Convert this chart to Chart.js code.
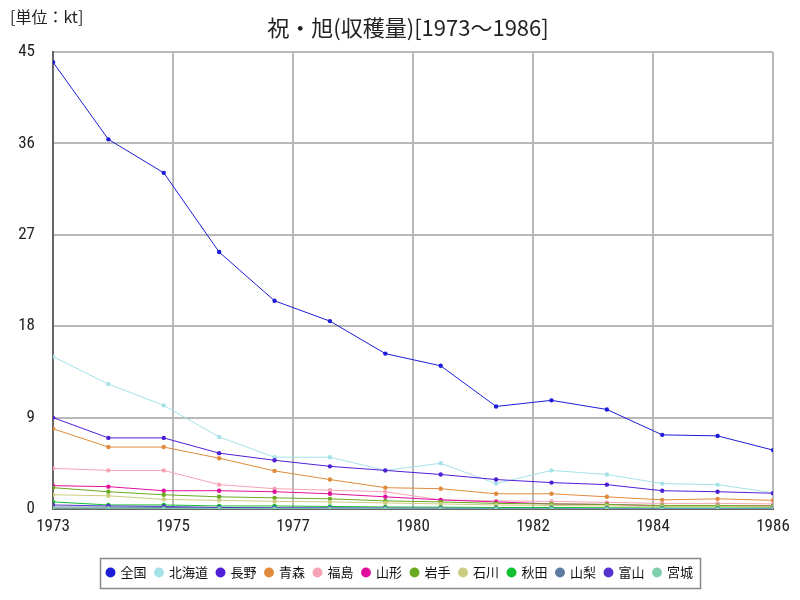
<!DOCTYPE html>
<html><head><meta charset="utf-8">
<script src="https://cdn.jsdelivr.net/npm/chart.js@4/dist/chart.umd.min.js"></script>
<style>html,body{margin:0;padding:0;background:#fff}#wrap{width:800px;height:600px}</style>
</head><body><div id="wrap"><canvas id="c" width="800" height="600"></canvas></div>
<script>
const years = [1973,1974,1975,1976,1977,1978,1979,1980,1981,1982,1983,1984,1985,1986];
const xTickLabels = [1973,1975,1977,1980,1982,1984,1986];
const yTicks = [0,9,18,27,36,45];
const seriesNames = ['全国','北海道','長野','青森','福島','山形','岩手','石川','秋田','山梨','富山','宮城'];
const seriesColors = ['#1c1cd8','#a4e2e8','#4f1fd6','#e08a3c','#f4a4b4','#e0109c','#6aaa20','#cccc80','#10c030','#5c7aa0','#5533cc','#80d0b0'];
const v全国 = [44.0,36.4,33.1,25.3,20.5,18.5,15.3,14.1,10.1,10.7,9.8,7.3,7.2,5.8];
const v北海道 = [15.0,12.3,10.2,7.1,5.1,5.1,3.8,4.5,2.5,3.8,3.4,2.5,2.4,1.6];
const v長野 = [9.0,7.0,7.0,5.5,4.8,4.2,3.8,3.4,2.9,2.6,2.4,1.8,1.7,1.55];
const v青森 = [7.9,6.1,6.1,5.0,3.75,2.9,2.1,2.0,1.5,1.5,1.2,0.9,1.0,0.85];
const v福島 = [4.0,3.8,3.8,2.4,2.0,1.85,1.7,0.9,0.8,0.75,0.65,0.55,0.55,0.5];
const v山形 = [2.3,2.2,1.8,1.8,1.7,1.5,1.2,0.9,0.7,0.5,0.45,0.3,0.3,0.3];
const v岩手 = [2.1,1.7,1.4,1.2,1.1,1.0,0.8,0.7,0.55,0.5,0.45,0.35,0.35,0.3];
const v石川 = [1.4,1.3,0.95,0.85,0.75,0.7,0.6,0.5,0.4,0.35,0.3,0.25,0.25,0.2];
const v秋田 = [0.7,0.4,0.4,0.3,0.3,0.25,0.2,0.18,0.15,0.15,0.12,0.1,0.1,0.1];
const v山梨 = [0.2,0.18,0.15,0.12,0.1,0.1,0.08,0.08,0.06,0.05,0.05,0.04,0.04,0.03];
const v富山 = [0.4,0.3,0.25,0.15,0.12,0.1,0.08,0.06,0.05,0.05,0.04,0.03,0.03,0.02];
const v宮城 = [0.1,0.08,0.06,0.05,0.04,0.03,0.03,0.02,0.02,0.02,0.01,0.01,0.01,0.01];
const seriesValues = [v全国,v北海道,v長野,v青森,v福島,v山形,v岩手,v石川,v秋田,v山梨,v富山,v宮城];

const datasets = seriesNames.map((n,i)=>({
  label:n,
  data: years.map((y,j)=>({x:y,y:seriesValues[i][j]})),
  borderColor: seriesColors[i], backgroundColor: seriesColors[i],
  borderWidth:1, pointRadius:2.2, pointHoverRadius:2.2, pointBorderWidth:0, tension:0
})).reverse();

const NUM_FONT = '"Liberation Sans Narrow","Roboto Condensed","DejaVu Sans Condensed","Noto Sans CJK JP",sans-serif';
const JP_FONT = '"Noto Sans CJK JP",sans-serif';

const extras = {
  id:'extras',
  afterDraw(chart){
    const ctx = chart.ctx;
    ctx.save();
    ctx.fillStyle='#222';
    ctx.textBaseline='middle';
    ctx.font = '16px '+JP_FONT;
    ctx.textAlign='left';
    ctx.fillText('[単位：kt]', 10, 17);
    ctx.font = '22px '+JP_FONT;
    ctx.textAlign='center';
    ctx.fillText('祝・旭(収穫量)[1973～1986]', 408, 28);
    const lg = chart.legend;
    if (lg && lg.legendHitBoxes && lg.legendHitBoxes.length){
      const hb = lg.legendHitBoxes;
      let l = Infinity, r = -Infinity;
      hb.forEach(h=>{ l=Math.min(l,h.left); r=Math.max(r,h.left+h.width); });
      l -= 7; r += 7;
      ctx.strokeStyle='#888'; ctx.lineWidth=1.5;
      ctx.strokeRect(Math.round(l)+0.5, 558.5, Math.round(r-l), 30);
    }
    ctx.restore();
  }
};

new Chart(document.getElementById('c'), {
  type:'line',
  data:{datasets},
  plugins:[extras],
  options:{
    responsive:false, animation:false, devicePixelRatio:1,
    layout:{padding:{top:52,left:0,right:0,bottom:11}},
    plugins:{
      title:{display:false}, tooltip:{enabled:false},
      legend:{
        position:'bottom', reverse:true,
        labels:{usePointStyle:true, pointStyle:'circle', boxWidth:7, boxHeight:7, padding:9,
          color:'#111', font:{family:JP_FONT, size:13}}
      }
    },
    scales:{
      x:{type:'linear', min:1973, max:1986,
        afterBuildTicks(s){ s.ticks = xTickLabels.map((t,i)=>({value:1973+i*13/6})); },
        afterFit(s){ s.height = 48; },
        ticks:{autoSkip:false, maxRotation:0, color:'#222', padding:8,
          font:{family:NUM_FONT, size:17},
          callback:(v,i)=>String(xTickLabels[i])},
        grid:{color:'#b8b8b8', lineWidth:2, drawTicks:false},
        border:{color:'#666', width:2}
      },
      y:{min:0, max:45,
        afterBuildTicks(s){ s.ticks = yTicks.map(v=>({value:v})); },
        afterFit(s){ s.width = 53; },
        ticks:{color:'#222', padding:18, font:{family:NUM_FONT, size:17}},
        grid:{color:'#b8b8b8', lineWidth:2, drawTicks:false},
        border:{color:'#666', width:2}
      },
      yRight:{position:'right', min:0, max:45,
        afterFit(s){ s.width = 27; },
        ticks:{display:false}, grid:{display:false}, border:{display:false}
      }
    }
  }
});
</script></body></html>
